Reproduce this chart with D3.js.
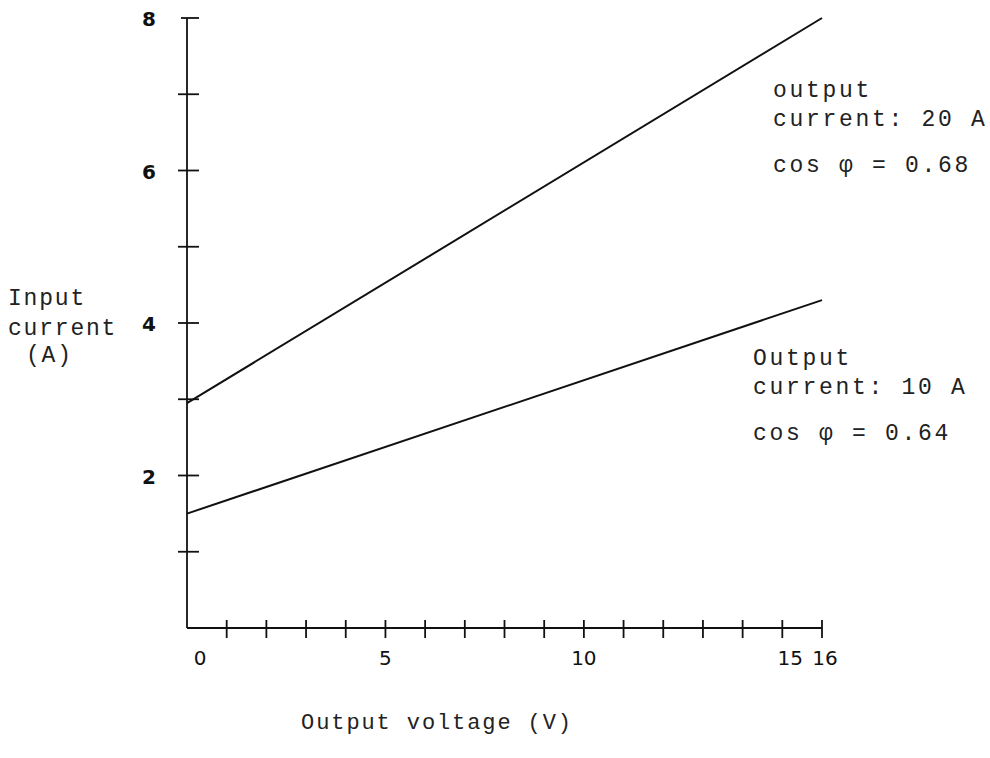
<!DOCTYPE html>
<html>
<head>
<meta charset="utf-8">
<script src="https://cdn.jsdelivr.net/npm/d3@7"></script>
<style>
  body { margin: 0; background: #fff; }
  svg { display: block; }
  .mono { font-family: "Liberation Mono", "DejaVu Sans Mono", monospace; fill: #222; }
  .num { font-family: "DejaVu Sans", sans-serif; fill: #111; }
</style>
</head>
<body>
<svg width="990" height="758"></svg>
<script>
// data
const xTicks = d3.range(1, 17);
const xTickLabels = [5, 10, 15, 16];
const yTicks = d3.range(1, 9);
const yTickLabels = [2, 4, 6, 8];

const voltage = [0, 16];
const current20A = [2.95, 8.0];
const current10A = [1.5, 4.3];

const series = [
  { name: "20A", values: current20A, label: ["output", "current: 20 A", "cos \u03C6 = 0.68"] },
  { name: "10A", values: current10A, label: ["Output", "current: 10 A", "cos \u03C6 = 0.64"] }
];

const svg = d3.select("svg");

const x = d3.scaleLinear().domain([0, 16]).range([187, 822]);
const y = d3.scaleLinear().domain([0, 8]).range([628, 18]);

const axes = svg.append("g").attr("stroke", "#111").attr("stroke-width", 1.8);

// axis lines
axes.append("line").attr("x1", x(0)).attr("x2", x(0)).attr("y1", y(0)).attr("y2", y(8));
axes.append("line").attr("x1", x(0)).attr("x2", x(16)).attr("y1", y(0)).attr("y2", y(0));

// y ticks cross the axis
axes.selectAll(".yt")
  .data(yTicks)
  .enter()
  .append("line")
  .attr("x1", (d) => (d === 8 ? x(0) - 6 : x(0) - 9))
  .attr("x2", x(0) + 12)
  .attr("y1", (d) => y(d))
  .attr("y2", (d) => y(d));

// x ticks cross the axis
axes.selectAll(".xt")
  .data(xTicks)
  .enter()
  .append("line")
  .attr("x1", (d) => x(d))
  .attr("x2", (d) => x(d))
  .attr("y1", y(0) - 8)
  .attr("y2", y(0) + 10);

// tick labels
svg.selectAll(".yl")
  .data(yTickLabels)
  .enter()
  .append("text")
  .attr("class", "num")
  .attr("x", x(0) - 38)
  .attr("y", (d) => y(d) + 8)
  .attr("text-anchor", "middle")
  .attr("font-size", 20)
  .style("font-weight", 600)
  .text((d) => d);

svg.selectAll(".xl")
  .data(xTickLabels)
  .enter()
  .append("text")
  .attr("class", "num")
  .attr("x", (d) => x(d) + (d === 15 ? 8 : d === 16 ? 3 : 0))
  .attr("y", 665)
  .attr("text-anchor", "middle")
  .attr("font-size", 20)
  .style("font-weight", 400)
  .text((d) => d);

svg.append("text")
  .attr("class", "num")
  .attr("x", x(0) + 13)
  .attr("y", 665)
  .attr("text-anchor", "middle")
  .attr("font-size", 20)
  .style("font-weight", 400)
  .text("0");

// axis titles
const yTitle = svg.append("text").attr("class", "mono").attr("font-size", 23).attr("letter-spacing", 1.8);
yTitle.append("tspan").attr("x", 8).attr("y", 305).text("Input");
yTitle.append("tspan").attr("x", 8).attr("y", 335).text("current");
yTitle.append("tspan").attr("x", 26).attr("y", 362).text("(A)");

svg.append("text")
  .attr("class", "mono")
  .attr("x", 437)
  .attr("y", 729)
  .attr("text-anchor", "middle")
  .attr("font-size", 22)
  .attr("letter-spacing", 1.9)
  .text("Output voltage (V)");

// lines
const line = d3.line()
  .x((d, i) => x(voltage[i]))
  .y((d) => y(d));

svg.selectAll(".series")
  .data(series)
  .enter()
  .append("path")
  .attr("fill", "none")
  .attr("stroke", "#111")
  .attr("stroke-width", 2)
  .attr("d", (d) => line(d.values));

// annotations
const notePos = { "20A": [773, 97], "10A": [753, 365] };
series.forEach((s) => {
  const [nx, ny] = notePos[s.name];
  const t = svg.append("text").attr("class", "mono").attr("font-size", 23).attr("letter-spacing", 2.7);
  t.append("tspan").attr("x", nx).attr("y", ny).text(s.label[0]);
  t.append("tspan").attr("x", nx).attr("y", ny + 29).text(s.label[1]);
  t.append("tspan").attr("x", nx).attr("y", ny + 75).text(s.label[2]);
});
</script>
</body>
</html>
